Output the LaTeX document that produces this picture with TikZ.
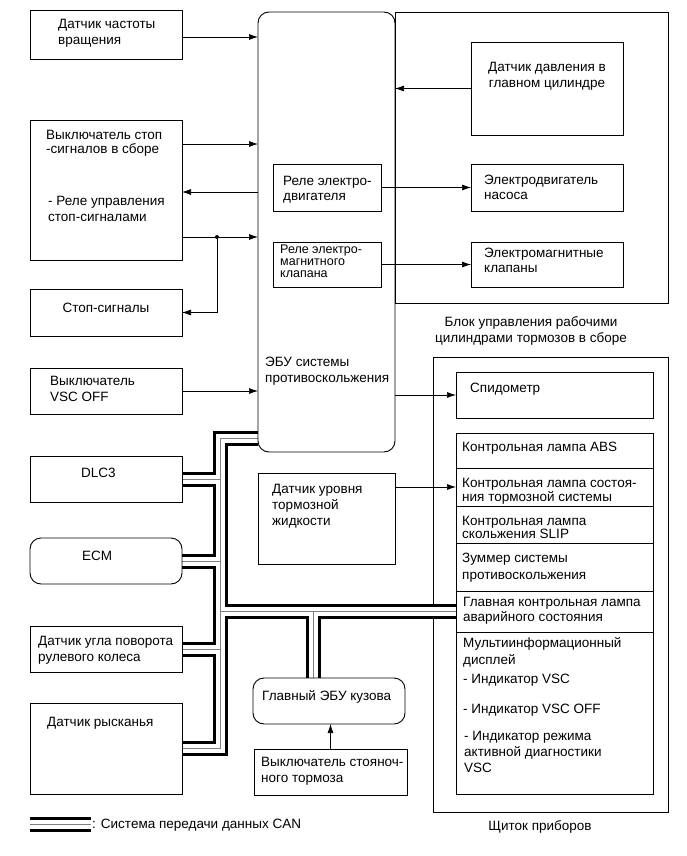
\documentclass[tikz,border=0pt]{standalone}
\usepackage{fontspec}
\setmainfont{Liberation Sans}
\usetikzlibrary{arrows.meta,positioning,calc,backgrounds}
\pgfdeclarelayer{bus}
\pgfsetlayers{background,bus,main}

\begin{document}
\begin{tikzpicture}[x=1pt,y=-1pt,
  font=\fontsize{13.5}{16}\selectfont,
  box/.style={draw, line width=0.9pt, inner sep=0, outer sep=0},
  rbox/.style={box, rounded corners=11},
  txt/.style={inner sep=0, anchor=north west, align=left},
  ctxt/.style={inner sep=0, anchor=north, align=center},
  tight/.style={font=\fontsize{13.5}{#1}\selectfont},
  arr/.style={line width=0.7pt, -{Latex[length=9pt,width=6pt]}},
  tapdot/.style={circle, fill, inner sep=0, minimum size=4},
  can/.style={draw=gray, line width=0.9pt,
    preaction={draw=black, line width=15pt},
    preaction={draw=white, line width=9pt}}]
  \useasboundingbox (0,0) rectangle (687,856);

  % outer frames
  \begin{pgfonlayer}{background}
    \node[box, minimum width=273, minimum height=291] (hcu) at (531.5,157.5) {};
    \node[box, minimum width=235, minimum height=455] (meter) at (550.5,584.5) {};
  \end{pgfonlayer}
  \node[ctxt] (hcu-t) at (531,316.5) {Блок управления рабочими\\цилиндрами тормозов в сборе};
  \node[ctxt] (meter-t) at (540,820.5) {Щиток приборов};

  % skid control ECU
  \node[rbox, minimum width=137, minimum height=440] (ecu) at (326.5,232) {};
  \node[txt] (ecu-t) at (265,356.5) {ЭБУ системы\\противоскольжения};
  \node[box, minimum width=108, minimum height=47] (relay1) at (327,187.5) {};
  \node[txt, tight=15] (relay1-t) at (283,176.5) {Реле электро-\\двигателя};
  \node[box, minimum width=108, minimum height=45] (relay2) at (327,264.5) {};
  \node[txt, font=\fontsize{12.5}{12}\selectfont] (relay2-t) at (280,244.5) {Реле электро-\\магнитного\\клапана};

  % actuator side
  \node[box, minimum width=152, minimum height=93] (press) at (547,88.5) {};
  \node[ctxt] (press-t) at (547,62.5) {Датчик давления в\\главном цилиндре};
  \node[box, minimum width=152, minimum height=47] (pump) at (547,187.5) {};
  \node[txt, tight=15] (pump-t) at (484,174.5) {Электродвигатель\\насоса};
  \node[box, minimum width=152, minimum height=45] (valves) at (547,264.5) {};
  \node[txt, tight=15] (valves-t) at (484,247.5) {Электромагнитные\\клапаны};

  % left column
  \node[box, minimum width=152, minimum height=49] (speed) at (106,34.5) {};
  \node[txt] (speed-t) at (58,19.5) {Датчик частоты\\вращения};
  \node[box, minimum width=152, minimum height=140] (stopsw) at (106,190) {};
  \node[txt, tight=13.5] (stopsw-t) at (46,130.5) {Выключатель стоп\\-сигналов в сборе};
  \node[txt] (stoprly-t) at (48,196.5) {- Реле управления\\стоп-сигналами};
  \node[box, minimum width=152, minimum height=47] (stoplamp) at (106,312.5) {};
  \node[ctxt] (stoplamp-t) at (106,302.5) {Стоп-сигналы};
  \node[box, minimum width=152, minimum height=46] (vscsw) at (106,391) {};
  \node[txt] (vscsw-t) at (50,376.5) {Выключатель\\VSC OFF};
  \node[box, minimum width=152, minimum height=46] (dlc) at (106,479) {};
  \node[txt] (dlc-t) at (81,467.5) {DLC3};
  \node[rbox, minimum width=152, minimum height=46] (ecm) at (106,561) {};
  \node[txt] (ecm-t) at (82,550.5) {ECM};
  \node[box, minimum width=152, minimum height=46] (angle) at (106,649) {};
  \node[txt] (angle-t) at (38,636.5) {Датчик угла поворота\\рулевого колеса};
  \node[box, minimum width=152, minimum height=91] (yaw) at (106,748.5) {};
  \node[txt] (yaw-t) at (47,717.5) {Датчик рысканья};

  % middle
  \node[box, minimum width=137, minimum height=91] (level) at (326.5,518.5) {};
  \node[txt] (level-t) at (272,484.5) {Датчик уровня\\тормозной\\жидкости};
  \node[rbox, minimum width=152, minimum height=46] (body) at (329,701) {};
  \node[txt] (body-t) at (262,690.5) {Главный ЭБУ кузова};
  \node[box, minimum width=153, minimum height=46] (parking) at (330.5,772) {};
  \node[txt] (parking-t) at (261,757.5) {Выключатель стояноч-\\ного тормоза};

  % combination meter
  \node[box, minimum width=197, minimum height=46] (speedo) at (554.5,395) {};
  \node[txt] (speedo-t) at (470,382.5) {Спидометр};
  \foreach \n/\cy/\h in {abs/450.5/35, brake/487/38, slip/524.5/37,
                         buzzer/567/48, master/611.5/41, mfd/713/162}
    \node[box, minimum width=197, minimum height=\h] (\n) at (554.5,\cy) {};
  \node[txt] (abs-t) at (462,441.5) {Контрольная лампа ABS};
  \node[txt, tight=14] (brake-t) at (462,478.5) {Контрольная лампа состоя-\\ния тормозной системы};
  \node[txt, tight=13] (slip-t) at (462,516.5) {Контрольная лампа\\скольжения SLIP};
  \node[txt, tight=17] (buzzer-t) at (462,552.5) {Зуммер системы\\противоскольжения};
  \node[txt, tight=15] (master-t) at (463,596.5) {Главная контрольная лампа\\аварийного состояния};
  \node[txt, tight=17] (mfd-t) at (463,637.5) {Мультиинформационный\\дисплей};
  \node[txt] (ind1-t) at (463,673.5) {- Индикатор VSC};
  \node[txt] (ind2-t) at (463,703.5) {- Индикатор VSC OFF};
  \node[txt] (ind3-t) at (464,731.5) {- Индикатор режима\\активной диагностики\\VSC};

  % signal lines
  \draw[arr] (speed.east |- 0,37) -- (ecu.west |- 0,37);
  \draw[arr] (press.west) -- (press.west -| ecu.east);
  \draw[arr] (stopsw.east |- 0,144) -- (ecu.west |- 0,144);
  \draw[arr] (ecu.west |- 0,192) -- (stopsw.east |- 0,192);
  \draw[arr] (stopsw.east |- 0,237) -- (ecu.west |- 0,237);
  \node[tapdot] (tap) at (217,237) {};
  \draw[arr] (tap) |- (stoplamp.east);
  \draw[arr] (relay1.east) -- (pump.west);
  \draw[arr] (relay2.east) -- (valves.west);
  \draw[arr] (vscsw.east) -- (vscsw.east -| ecu.west);
  \draw[arr] (ecu.east |- speedo.west) -- (speedo.west);
  \draw[arr] (level.east |- brake.west) -- (brake.west);
  \draw[arr] (parking.north) -- (parking.north |- body.south);

  % CAN bus
  \begin{pgfonlayer}{bus}
    \coordinate (busnw) at (220,438);
    \draw[can] (busnw -| ecu.west) -- (busnw) -- (busnw |- yaw.east) -- (yaw.east)
      (dlc.east) -- (dlc.east -| busnw)
      (ecm.east) -- (ecm.east -| busnw)
      (angle.east) -- (angle.east -| busnw)
      (master.west) -- (master.west -| busnw)
      (master.west -| 313,0) -- (body.north -| 313,0);
  \end{pgfonlayer}

  % legend
  \draw[can] (30,824) -- (91,824);
  \node[txt] (can-t) at (92,818.5) {: Система передачи данных CAN};
\end{tikzpicture}
\end{document}
